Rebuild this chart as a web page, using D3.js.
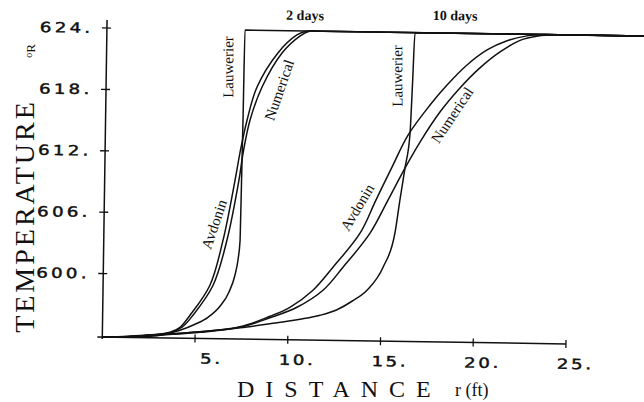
<!DOCTYPE html>
<html><head><meta charset="utf-8">
<script src="https://cdn.jsdelivr.net/npm/d3@7/dist/d3.min.js"></script>
<style>
html,body{margin:0;padding:0;background:#fff;}
svg{display:block;}
</style></head>
<body>
<svg id="chart" width="644" height="402"></svg>
<script>
// ---------------- data ----------------
const xTicks = [5, 10, 15, 20, 25];
const xTickLabels = ["5.", "10.", "15.", "20.", "25."];
const yTicks = [600, 606, 612, 618, 624];
const yTickLabels = ["600.", "606.", "612.", "618.", "624."];
const methodNames = ["Avdonin", "Numerical", "Lauwerier"];
const periodNames = ["2 days", "10 days"];

// 2 days
const avdonin2R = [0, 1.39, 2.57, 3.65, 4.18, 4.71, 5.76, 6.43, 7.03, 7.27, 7.63, 8.14, 9.24, 10.25, 10.79, 11.6, 29.6];
const avdonin2T = [593.8, 593.91, 594.08, 594.36, 594.86, 596.05, 599.02, 603.44, 609.33, 611.98, 615.22, 618.46, 621.82, 623.6, 624, 624, 624];
const numerical2R = [0, 1.39, 2.57, 3.65, 4.29, 4.87, 5.93, 6.64, 7.24, 7.44, 7.79, 8.41, 9.46, 10.41, 10.95, 11.8, 29.6];
const numerical2T = [593.8, 593.86, 594.04, 594.31, 594.87, 596.06, 599.02, 603.44, 609.33, 611.98, 615.22, 618.47, 621.82, 623.5, 624, 624, 624];
const lauwerier2R = [0, 2.57, 4.18, 4.99, 5.68, 6.32, 6.79, 7.10, 7.25, 7.35, 7.38, 7.41, 7.44, 29.6];
const lauwerier2T = [593.8, 593.94, 594.57, 595.18, 595.88, 596.98, 598.36, 600.03, 601.5, 603.46, 609.34, 615.21, 624, 624];

// 10 days
const avdonin10R = [0, 1.39, 2.57, 5.26, 7.41, 9.02, 10.09, 11.32, 12.38, 13.81, 14.64, 15.48, 16.32, 17.48, 18.38, 19.44, 20.51, 21.58, 22.65, 23.6, 24.6, 29.6];
const avdonin10T = [593.8, 593.88, 594.04, 594.45, 595.0, 596.07, 596.98, 598.68, 600.96, 604.32, 607.58, 610.83, 613.98, 616.95, 618.93, 620.92, 622.42, 623.35, 623.85, 624, 624, 624];
const numerical10R = [0, 1.39, 2.57, 5.26, 7.42, 9.02, 10.47, 11.86, 12.92, 14.35, 15.29, 16.18, 16.97, 18.02, 19.08, 20.14, 21.21, 22.28, 23.24, 24.2, 25.2, 29.6];
const numerical10T = [593.8, 593.87, 593.99, 594.40, 594.95, 595.92, 596.99, 598.69, 600.97, 604.34, 607.59, 610.75, 613.32, 616.28, 618.66, 620.65, 622.24, 623.4, 623.85, 624, 624, 624];
const lauwerier10R = [0, 1.39, 2.57, 5.26, 7.42, 9.03, 10.64, 11.72, 12.63, 13.43, 14.23, 15.08, 15.69, 15.94, 16.18, 16.42, 16.52, 16.61, 29.6];
const lauwerier10T = [593.8, 593.87, 594.04, 594.45, 594.90, 595.34, 595.82, 596.24, 596.81, 597.66, 598.76, 601.03, 604.38, 607.71, 610.75, 613.99, 619.08, 624, 624];

// ---------------- drawing ----------------
const zip = (r, t) => r.map((v, i) => [v, t[i]]);
const smoothSeries = [
  zip(avdonin2R, avdonin2T), zip(numerical2R, numerical2T),
  zip(avdonin10R, avdonin10T), zip(numerical10R, numerical10T)
];
const stepSeries = [zip(lauwerier2R, lauwerier2T), zip(lauwerier10R, lauwerier10T)];

const svg = d3.select("#chart");
svg.append("rect").attr("width", 644).attr("height", 402).attr("fill", "#fff");

const x = d3.scaleLinear().domain([0, 25]).range([102.3, 566]);
const y = d3.scaleLinear().domain([593.8, 624]).range([337, 28]);
const x0 = x(0), y0 = y(593.8);

// the scanned figure is slightly rotated clockwise
const plot = svg.append("g").attr("transform", `rotate(0.86,${x0},${y0})`);

const ink = "#111";
// axes
plot.append("line").attr("x1", x0).attr("x2", x0).attr("y1", y(624) - 8).attr("y2", y0 + 2)
  .attr("stroke", ink).attr("stroke-width", 1.5);
plot.append("line").attr("x1", x0 - 5).attr("x2", x(25)).attr("y1", y0).attr("y2", y0)
  .attr("stroke", ink).attr("stroke-width", 1.5);

plot.selectAll(".yt").data(yTicks).join("line").attr("class", "yt")
  .attr("x1", x0 - 5).attr("x2", x0 + 4).attr("y1", d => y(d)).attr("y2", d => y(d))
  .attr("stroke", ink).attr("stroke-width", 1.3);
plot.selectAll(".xt").data(xTicks).join("line").attr("class", "xt")
  .attr("x1", d => x(d)).attr("x2", d => x(d)).attr("y1", y0 - 4).attr("y2", y0 + 4)
  .attr("stroke", ink).attr("stroke-width", 1.3);

const tickFont = "'DejaVu Sans', sans-serif";
plot.selectAll(".yl").data(yTicks).join("text").attr("class", "yl")
  .attr("transform", d => `translate(${x0 - 67},${y(d) + 5}) scale(1.3,1)`)
  .attr("font-family", tickFont).attr("font-size", 14).attr("letter-spacing", 2.5)
  .attr("fill", ink).attr("stroke", ink).attr("stroke-width", 0.45).attr("text-anchor", "start")
  .text((d, i) => yTickLabels[i]);
plot.selectAll(".xl").data(xTicks).join("text").attr("class", "xl")
  .attr("transform", d => `translate(${x(d) + 28},${y0 + 25}) scale(1.3,1)`)
  .attr("font-family", tickFont).attr("font-size", 14).attr("letter-spacing", 2)
  .attr("fill", ink).attr("stroke", ink).attr("stroke-width", 0.45).attr("text-anchor", "end")
  .text((d, i) => xTickLabels[i]);

// curves
const smoothLine = d3.line().x(d => x(d[0])).y(d => y(d[1])).curve(d3.curveCatmullRom.alpha(0.5));
const stepLine = d3.line().x(d => x(d[0])).y(d => y(d[1])).curve(d3.curveMonotoneX);
plot.selectAll(".curve").data(smoothSeries).join("path").attr("class", "curve")
  .attr("d", smoothLine).attr("fill", "none").attr("stroke", ink).attr("stroke-width", 1.5);
plot.selectAll(".step").data(stepSeries).join("path").attr("class", "step")
  .attr("d", stepLine).attr("fill", "none").attr("stroke", ink).attr("stroke-width", 1.5);

// curve labels
const serif = "'Liberation Serif', 'Times New Roman', serif";
function note(txt, r, t, ang) {
  plot.append("text")
    .attr("transform", `translate(${x(r)},${y(t)}) rotate(${ang})`)
    .attr("text-anchor", "middle").attr("dy", "0.35em")
    .attr("font-family", serif).attr("font-size", 15).attr("fill", ink)
    .text(txt);
}
note(methodNames[2], 6.56, 620.37, -91);
note(methodNames[1], 9.33, 618.2, -72);
note(methodNames[0], 5.93, 604.99, -72);
note(methodNames[2], 15.68, 619.74, -91);
note(methodNames[1], 18.67, 616.01, -57);
note(methodNames[0], 13.63, 606.86, -60);

plot.append("text").attr("x", x(10.67)).attr("y", y(624) - 11)
  .attr("text-anchor", "middle").attr("font-family", serif).attr("font-weight", "bold")
  .attr("font-size", 14).attr("fill", ink).text(periodNames[0]);
plot.append("text").attr("x", x(18.76)).attr("y", y(624) - 13)
  .attr("text-anchor", "middle").attr("font-family", serif).attr("font-weight", "bold")
  .attr("font-size", 14).attr("fill", ink).text(periodNames[1]);

// axis titles
svg.append("text").attr("transform", "translate(34,216) rotate(-90)")
  .attr("text-anchor", "middle").attr("font-family", serif).attr("font-size", 28)
  .attr("letter-spacing", 3).attr("fill", ink).text("TEMPERATURE");
const unit = svg.append("text").attr("transform", "translate(35,51) rotate(-90)")
  .attr("text-anchor", "middle").attr("font-family", serif).attr("fill", ink);
unit.append("tspan").attr("font-size", 10).attr("dy", -3).text("o");
unit.append("tspan").attr("font-size", 13).attr("dy", 3).text("R");

svg.append("text").attr("x", 237).attr("y", 397)
  .attr("font-family", serif).attr("font-size", 24).attr("letter-spacing", 11)
  .attr("fill", ink).text("DISTANCE");
svg.append("text").attr("x", 455).attr("y", 396)
  .attr("font-family", serif).attr("font-size", 18).attr("fill", ink).text("r (ft)");
</script>
</body></html>
